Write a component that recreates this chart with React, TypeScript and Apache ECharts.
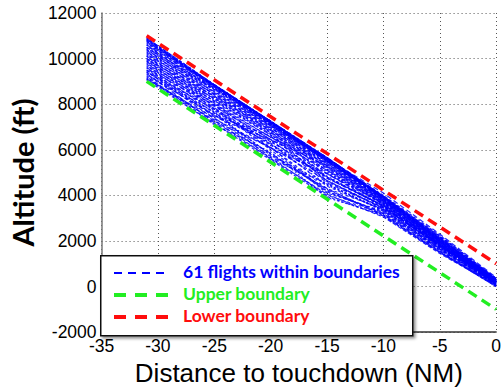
import React, { useEffect, useRef } from "react";
import * as echarts from "echarts";

// Distance to touchdown (NM) at which each flight's altitude is sampled
const DISTANCES = [-31, -25, -20, -15, -10, -5, 0];

// Altitude (ft) of each of the 61 flights at DISTANCES
const FLIGHTS: number[][] = [
  [9050, 7150, 5550, 3950, 3100, 1500, 0],
  [9100, 7300, 5600, 4050, 3050, 1450, 50],
  [9150, 7100, 5900, 3900, 3150, 1550, 0],
  [9100, 7400, 5700, 4300, 3100, 1500, 100],
  [9200, 7150, 5650, 4000, 3200, 1600, 50],
  [9250, 7550, 5800, 4200, 3150, 1500, 0],
  [9200, 7250, 6100, 4150, 3250, 1650, 100],
  [9300, 7650, 5600, 4500, 3300, 1600, 150],
  [9350, 7200, 5850, 4250, 3200, 1550, 50],
  [9300, 7500, 6300, 4400, 3350, 1700, 100],
  [9400, 7800, 6000, 4100, 3300, 1650, 150],
  [9450, 7350, 6100, 4650, 3400, 1750, 200],
  [9400, 7650, 5750, 4500, 3350, 1700, 100],
  [9500, 7450, 6450, 4550, 3450, 1800, 150],
  [9550, 7950, 6100, 4300, 3400, 1650, 50],
  [9500, 7750, 6200, 4800, 3500, 1750, 200],
  [9600, 7500, 6600, 4650, 3450, 1800, 250],
  [9650, 8050, 6250, 4450, 3350, 1700, 150],
  [9600, 7850, 6050, 4950, 3500, 1850, 200],
  [9700, 7600, 6400, 4750, 3550, 1750, 100],
  [9750, 8150, 6700, 4600, 3450, 1800, 200],
  [9700, 7950, 6450, 5100, 3600, 1850, 250],
  [9800, 7700, 6250, 4850, 3500, 1750, 150],
  [9850, 8250, 6800, 4750, 3550, 1900, 200],
  [9800, 8050, 6550, 5250, 3600, 1800, 100],
  [9900, 7800, 6350, 4950, 3650, 1850, 250],
  [9950, 8350, 6900, 4800, 3550, 1800, 200],
  [9900, 8150, 6650, 5000, 3650, 1900, 150],
  [10000, 7900, 6450, 5300, 3700, 1850, 200],
  [10050, 8450, 7000, 4950, 3600, 1950, 250],
  [10000, 8250, 6750, 5100, 3700, 1850, 150],
  [10100, 8000, 6550, 5400, 3750, 1900, 200],
  [10150, 8550, 7050, 5050, 3650, 1850, 100],
  [10100, 8350, 6850, 5200, 3750, 1950, 250],
  [10200, 8100, 6650, 5450, 3800, 1900, 200],
  [10250, 8650, 7100, 5150, 3700, 1950, 300],
  [10200, 8450, 6950, 5300, 3800, 2000, 200],
  [10300, 8200, 6750, 5500, 3850, 1950, 150],
  [10350, 8700, 7150, 5250, 3750, 2000, 250],
  [10300, 8550, 7050, 5400, 3850, 2050, 300],
  [10400, 8300, 6850, 5550, 3900, 2000, 200],
  [10450, 8750, 7200, 5350, 3800, 1950, 250],
  [10400, 8650, 7150, 5500, 3900, 2050, 300],
  [10500, 8400, 6950, 5600, 3850, 2100, 250],
  [10550, 8800, 7250, 5450, 3950, 2000, 200],
  [10500, 8700, 7200, 5550, 3900, 2050, 350],
  [10600, 8500, 7050, 5600, 3950, 2100, 300],
  [10650, 8850, 7250, 5500, 3900, 2000, 250],
  [10600, 8800, 7200, 5650, 3950, 2150, 300],
  [10700, 8600, 7100, 5600, 3900, 2100, 350],
  [10750, 8850, 7250, 5550, 3850, 2050, 300],
  [10700, 8800, 7250, 5650, 3950, 2200, 350],
  [10800, 8700, 7150, 5600, 3900, 2100, 300],
  [10750, 8850, 7250, 5650, 3950, 2150, 250],
  [10850, 8800, 7200, 5550, 3850, 2050, 300],
  [10800, 8850, 7250, 5600, 4000, 2250, 350],
  [10850, 8750, 7100, 5500, 3800, 2000, 250],
  [10900, 8850, 7250, 5650, 3950, 2150, 300],
  [10850, 8800, 7200, 5600, 4100, 2300, 400],
  [10900, 8850, 7150, 5500, 3900, 2100, 300],
  [10900, 8850, 7250, 5650, 3950, 2200, 350],
];

// Boundary lines: [distance, altitude]
const UPPER_BOUNDARY: number[][] = [[-31, 9000], [0, -1000]];
const LOWER_BOUNDARY: number[][] = [[-31, 11000], [0, 1000]];

const LEGEND_LABELS = ["61 flights within boundaries", "Upper boundary", "Lower boundary"];

const BLUE = "#0000ff";
const GREEN = "#22ee22";
const RED = "#ff0d0d";

export default function App() {
  const ref = useRef<HTMLDivElement>(null);

  useEffect(() => {
    if (!ref.current) return;
    const chart = echarts.init(ref.current, null, { renderer: "svg" });

    const dashes = [[3, 2], [4, 2], [2, 2], [5, 3], [3, 3]];
    const flightSeries = FLIGHTS.map((alts, i) => ({
      type: "line",
      name: "flight" + (i + 1),
      data: DISTANCES.map((d, j) => [d, alts[j]]),
      symbol: "none",
      silent: true,
      lineStyle: {
        color: BLUE,
        width: 1.2,
        type: dashes[i % dashes.length],
        dashOffset: (i * 7) % 5,
        opacity: 0.85,
      },
    }));

    const boundarySeries = [
      {
        type: "line",
        name: LEGEND_LABELS[1],
        data: UPPER_BOUNDARY,
        symbol: "none",
        silent: true,
        lineStyle: { color: GREEN, width: 3.5, type: [10, 6] },
      },
      {
        type: "line",
        name: LEGEND_LABELS[2],
        data: LOWER_BOUNDARY,
        symbol: "none",
        silent: true,
        lineStyle: { color: RED, width: 3.5, type: [10, 6] },
      },
    ];

    const legendX = 100;
    const legendY = 255;
    const rows = [
      { y: 273, color: BLUE, width: 2, dash: [8, 6], text: LEGEND_LABELS[0] },
      { y: 295, color: GREEN, width: 4, dash: [12, 9], text: LEGEND_LABELS[1] },
      { y: 317, color: RED, width: 4, dash: [12, 9], text: LEGEND_LABELS[2] },
    ];

    const graphic: any[] = [
      {
        type: "rect",
        left: legendX,
        top: legendY,
        shape: { width: 312, height: 80 },
        style: {
          fill: "#fff",
          stroke: "#111",
          lineWidth: 1.5,
          shadowBlur: 3,
          shadowOffsetX: 2,
          shadowOffsetY: 2,
          shadowColor: "rgba(0,0,0,0.45)",
        },
        z: 100,
      },
    ];
    rows.forEach((r) => {
      graphic.push({
        type: "line",
        shape: { x1: 114, y1: r.y, x2: 168, y2: r.y },
        style: { stroke: r.color, lineWidth: r.width, lineDash: r.dash },
        z: 101,
      });
      graphic.push({
        type: "text",
        left: 183,
        top: r.y - 11,
        style: {
          text: r.text,
          fill: r.color,
          font: "bold 17.5px Lato, 'Open Sans', sans-serif",
        },
        z: 101,
      });
    });

    const fmt = (v: number) => String(v);

    chart.setOption({
      animation: false,
      backgroundColor: "#fff",
      grid: { left: 100, right: 2, top: 13, bottom: 57 },
      xAxis: {
        type: "value",
        min: -35,
        max: 0,
        interval: 5,
        name: "Distance to touchdown (NM)",
        nameLocation: "middle",
        nameGap: 26,
        nameTextStyle: { fontFamily: "Liberation Sans, Arial, sans-serif", fontSize: 26, color: "#000" },
        axisLine: { show: true, onZero: false, lineStyle: { color: "#333", width: 1.5 } },
        axisTick: { show: false },
        axisLabel: { fontFamily: "Liberation Sans, Arial, sans-serif", fontSize: 17.5, color: "#000", margin: 5, formatter: fmt },
        splitLine: { show: true, lineStyle: { color: "#555", width: 1, type: [1, 3] } },
      },
      yAxis: {
        type: "value",
        min: -2000,
        max: 12000,
        interval: 2000,
        name: "Altitude (ft)",
        nameLocation: "middle",
        nameRotate: 90,
        nameGap: 58,
        nameTextStyle: { fontFamily: "Lato, 'Open Sans', sans-serif", fontWeight: "bold", fontSize: 29, color: "#000" },
        axisLine: { show: true, onZero: false, lineStyle: { color: "#777", width: 1.5 } },
        axisTick: { show: false },
        axisLabel: { fontFamily: "Liberation Sans, Arial, sans-serif", fontSize: 17.5, color: "#000", margin: 5, formatter: fmt },
        splitLine: { show: true, lineStyle: { color: "#555", width: 1, type: [1, 3] } },
      },
      series: [...flightSeries, ...boundarySeries],
      graphic,
    });

    return () => chart.dispose();
  }, []);

  return <div ref={ref} style={{ width: 504, height: 391, position: "absolute", left: 0, top: 0 }} />;
}
